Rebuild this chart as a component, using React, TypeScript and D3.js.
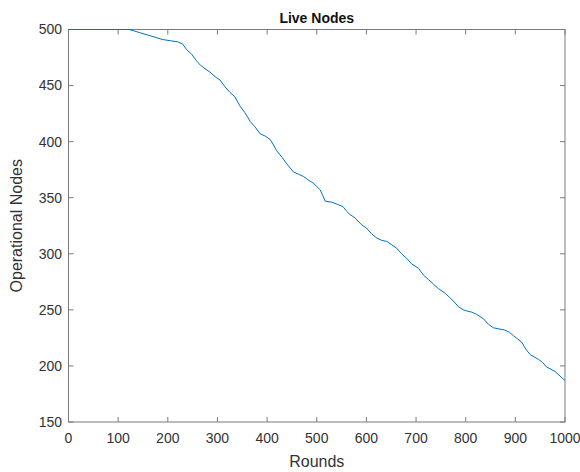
import React from 'react';
import * as d3 from 'd3';

// rounds sampled along the curve
const rounds = [
  0, 122, 130, 145, 160, 175, 190, 205, 220, 230, 238, 248, 258, 266, 275, 285, 295, 305,
  315, 325, 335, 345, 355, 366, 376, 386, 396, 406, 413, 419, 430, 440, 453, 463, 473,
  482, 493, 507, 512, 517, 530, 542, 553, 560, 567, 577, 590, 600, 610, 621, 631, 641,
  651, 661, 671, 681, 691, 705, 715, 725, 735, 745, 758, 768, 777, 785, 795, 802, 812,
  822, 836, 846, 856, 867, 879, 888, 896, 905, 913, 921, 930, 938, 946, 955, 963, 972,
  980, 990, 1000,
];

// live nodes at each sampled round
const liveNodes = [
  500, 500, 499, 497, 495, 493, 491, 490, 489, 487, 482, 478, 472, 468, 465, 462, 458, 455,
  449, 444, 440, 432, 426, 418, 413, 407, 405, 402, 397, 392, 386, 380, 373, 371, 369,
  366, 363, 357, 352, 347, 346, 344, 342, 338, 335, 332, 326, 323, 318, 314, 312, 311,
  308, 305, 300, 296, 291, 287, 281, 277, 273, 269, 265, 261, 257, 253, 250, 249, 248,
  246, 242, 237, 234, 233, 232, 230, 227, 224, 221, 215, 210, 208, 206, 203, 199, 197,
  195, 191, 187,
];

const xTicks = [0, 100, 200, 300, 400, 500, 600, 700, 800, 900, 1000];
const yTicks = [150, 200, 250, 300, 350, 400, 450, 500];

const W = 580;
const H = 472;
const left = 68.5;
const right = 565;
const top = 29.5;
const bottom = 422;

export default function App() {
  const x = d3.scaleLinear().domain([0, 1000]).range([left, right]);
  const y = d3.scaleLinear().domain([150, 500]).range([bottom, top]);

  const pts = rounds.map((r, i) => [r, liveNodes[i]] as [number, number]);
  const path = d3
    .line<[number, number]>()
    .x((d) => x(d[0]))
    .y((d) => y(d[1]))(pts);

  const axisCol = '#7a7a7a';
  const textCol = '#333';
  const font = 'Liberation Sans, Arial, sans-serif';
  const tick = 5;

  return (
    <svg
      width={W}
      height={H}
      style={{ position: 'absolute', left: 0, top: 0, background: '#fff' }}
      fontFamily={font}
    >
      <rect x={0} y={0} width={W} height={H} fill="#fff" />

      {/* box */}
      <rect
        x={left}
        y={top}
        width={right - left}
        height={bottom - top}
        fill="none"
        stroke={axisCol}
        strokeWidth={1}
      />

      {xTicks.map((t) => (
        <g key={'x' + t}>
          <line x1={x(t)} x2={x(t)} y1={bottom} y2={bottom - tick} stroke={axisCol} />
          <line x1={x(t)} x2={x(t)} y1={top} y2={top + tick} stroke={axisCol} />
          <text x={x(t)} y={443} textAnchor="middle" fontSize={14} fill={textCol}>
            {t}
          </text>
        </g>
      ))}

      {yTicks.map((t) => (
        <g key={'y' + t}>
          <line x1={left} x2={left + tick} y1={y(t)} y2={y(t)} stroke={axisCol} />
          <line x1={right} x2={right - tick} y1={y(t)} y2={y(t)} stroke={axisCol} />
          <text
            x={62}
            y={y(t)}
            dy="0.35em"
            textAnchor="end"
            fontSize={14}
            fill={textCol}
          >
            {t}
          </text>
        </g>
      ))}

      <path d={path || ''} fill="none" stroke="#0072BD" strokeWidth={1} />

      <text
        x={(left + right) / 2}
        y={23}
        textAnchor="middle"
        fontSize={14}
        fontWeight="bold"
        fill="#111"
      >
        Live Nodes
      </text>
      <text
        x={(left + right) / 2}
        y={467}
        textAnchor="middle"
        fontSize={16}
        fill={textCol}
      >
        Rounds
      </text>
      <text
        transform={`translate(22,${(top + bottom) / 2}) rotate(-90)`}
        textAnchor="middle"
        fontSize={16}
        fill={textCol}
      >
        Operational Nodes
      </text>
    </svg>
  );
}
